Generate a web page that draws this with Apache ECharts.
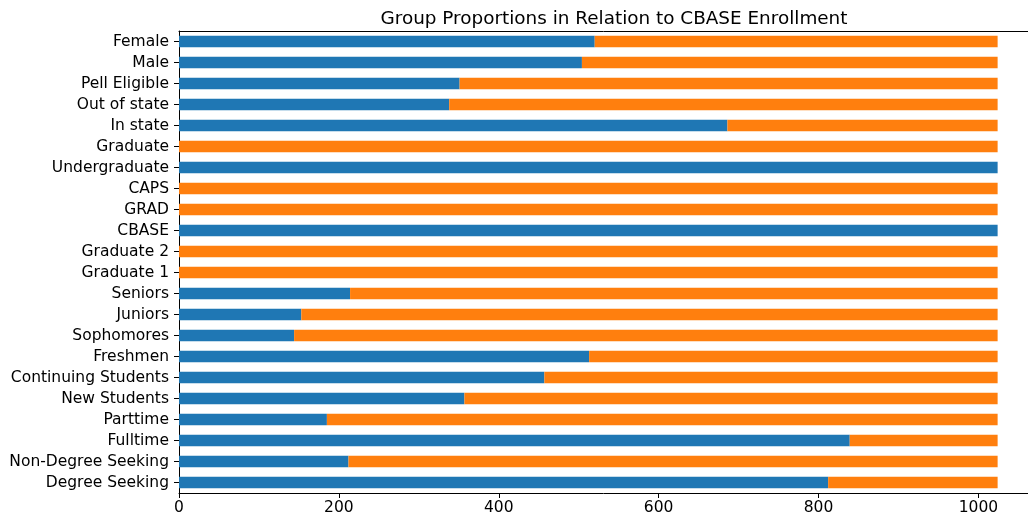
<!DOCTYPE html>
<html>
<head>
<meta charset="utf-8">
<script src="https://cdn.jsdelivr.net/npm/echarts@6/dist/echarts.min.js"></script>
<style>html,body{margin:0;padding:0;background:#fff;}#c{width:1028px;height:518px;}</style>
</head>
<body>
<div id="c"></div>
<script>
const categories = ["Female","Male","Pell Eligible","Out of state","In state","Graduate","Undergraduate","CAPS","GRAD","CBASE","Graduate 2","Graduate 1","Seniors","Juniors","Sophomores","Freshmen","Continuing Students","New Students","Parttime","Fulltime","Non-Degree Seeking","Degree Seeking"];
const inGroup =    [520, 504, 351, 338, 686, 0, 1024, 0, 0, 1024, 0, 0, 214, 153, 144, 513, 457, 357, 185, 839, 212, 812];
const notInGroup = [504, 520, 673, 686, 338, 1024, 0, 1024, 1024, 0, 1024, 1024, 810, 871, 880, 511, 567, 667, 839, 185, 812, 212];
const xTicks = [0, 200, 400, 600, 800, 1000];
const title = "Group Proportions in Relation to CBASE Enrollment";

const font = "DejaVu Sans";
const chart = echarts.init(document.getElementById('c'), null, {renderer:'canvas'});
chart.setOption({
  animation: false,
  backgroundColor: '#ffffff',
  title: {
    text: title, left: 609, top: 5, textAlign: 'center',
    textStyle: {fontFamily: font, fontSize: 18.4, fontWeight: 'normal', color: '#000'}
  },
  grid: {left: 179, right: 0, top: 31, bottom: 25, containLabel: false},
  xAxis: [{
    type: 'value', min: 0, max: 1062, interval: 200,
    axisLine: {show: true, lineStyle: {color: '#000', width: 1}},
    axisTick: {show: true, length: 5, lineStyle: {color: '#000'}},
    splitLine: {show: false},
    axisLabel: {fontFamily: font, fontSize: 15.5, color: '#000', margin: 7, showMaxLabel: false,
      formatter: v => xTicks.includes(v) ? String(v) : ''}
  }, {
    type: 'value', position: 'top', min: 0, max: 1062,
    axisLine: {show: true, lineStyle: {color: '#000', width: 1}},
    axisTick: {show: false}, axisLabel: {show: false}, splitLine: {show: false}
  }],
  yAxis: {
    type: 'category', data: categories, inverse: true,
    axisLine: {show: true, lineStyle: {color: '#000', width: 1}},
    axisTick: {show: true, length: 5, alignWithLabel: true, lineStyle: {color: '#000'}},
    axisLabel: {fontFamily: font, fontSize: 15.5, color: '#000', margin: 10}
  },
  series: [{
    type: 'bar', stack: 'a', data: inGroup, barWidth: '55%',
    itemStyle: {color: '#1f77b4'}
  }, {
    type: 'bar', stack: 'a', data: notInGroup, barWidth: '55%',
    itemStyle: {color: '#ff7f0e'}
  }]
});
</script>
</body>
</html>
